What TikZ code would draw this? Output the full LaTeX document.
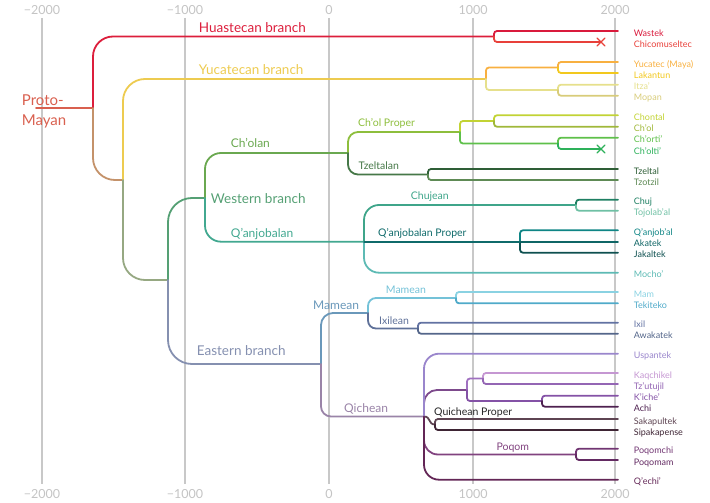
\documentclass[tikz,border=0pt]{standalone}
\usepackage{fontspec}
\setmainfont{Lato}
\usetikzlibrary{positioning,shapes.misc}

\definecolor{gridgray}{HTML}{C8C8C8}
\definecolor{axisgray}{HTML}{C4C4C4}
\definecolor{pmred}{HTML}{D9604F}
\definecolor{huas}{HTML}{DC1E3C}
\definecolor{wastek}{HTML}{D91A3C}
\definecolor{chicom}{HTML}{E8403A}
\definecolor{trunkA}{HTML}{C4926A}
\definecolor{yucbr}{HTML}{EDCB50}
\definecolor{yucatec}{HTML}{F8B040}
\definecolor{lakantun}{HTML}{F2C81E}
\definecolor{itza}{HTML}{E6E08C}
\definecolor{mopan}{HTML}{D8CC7A}
\definecolor{trunkB}{HTML}{96A882}
\definecolor{western}{HTML}{55A074}
\definecolor{cholan}{HTML}{6AA850}
\definecolor{cholp}{HTML}{8DBE3C}
\definecolor{chontal}{HTML}{C2D334}
\definecolor{chol}{HTML}{A0B83A}
\definecolor{chorti}{HTML}{5EC04A}
\definecolor{cholti}{HTML}{2DB15A}
\definecolor{tzeltalan}{HTML}{467848}
\definecolor{tzeltal}{HTML}{2E5E36}
\definecolor{tzotzil}{HTML}{5E8A55}
\definecolor{qanjob}{HTML}{42A890}
\definecolor{chujean}{HTML}{3FA58A}
\definecolor{chuj}{HTML}{1E7F62}
\definecolor{tojol}{HTML}{6FC0A4}
\definecolor{qanjpr}{HTML}{0F6A6A}
\definecolor{qanjobal}{HTML}{0F8585}
\definecolor{akatek}{HTML}{0F6565}
\definecolor{jakaltek}{HTML}{0E5050}
\definecolor{mocho}{HTML}{5DBAB4}
\definecolor{eastern}{HTML}{8590B0}
\definecolor{mameanO}{HTML}{6A98BA}
\definecolor{mameanI}{HTML}{74C2D8}
\definecolor{mam}{HTML}{8AD2E2}
\definecolor{tekiteko}{HTML}{4FAAC9}
\definecolor{ixilean}{HTML}{5F7199}
\definecolor{ixil}{HTML}{6272A2}
\definecolor{awakatek}{HTML}{54668A}
\definecolor{qichean}{HTML}{9A84A8}
\definecolor{uspantek}{HTML}{9A86CC}
\definecolor{kichean}{HTML}{7D4A8C}
\definecolor{kaqline}{HTML}{A070C0}
\definecolor{kaqchikel}{HTML}{C597D2}
\definecolor{tzutujil}{HTML}{9466B4}
\definecolor{kiche}{HTML}{8452A6}
\definecolor{achi}{HTML}{4E2150}
\definecolor{sakap}{HTML}{5E4452}
\definecolor{sipak}{HTML}{3E2434}
\definecolor{poqom}{HTML}{81437F}
\definecolor{poqomchi}{HTML}{713572}
\definecolor{poqomam}{HTML}{632A62}
\definecolor{qechi}{HTML}{632656}

\begin{document}
\begin{tikzpicture}[x=1pt, y=-1pt, line width=1.8pt, line cap=round,
  grid/.style={draw=gridgray, line width=2pt, line cap=butt},
  yrlab/.style={text=axisgray, anchor=base, inner sep=0pt, font=\fontsize{12.5}{14}\selectfont},
  leaf/.style={inner sep=0pt, text height=6.5pt, text depth=0pt, yshift=-2pt, font=\fontsize{9}{10}\selectfont},
  lvlA/.style={anchor=base west, inner sep=0pt, font=\fontsize{13.5}{15}\selectfont},
  lvlB/.style={anchor=base west, inner sep=0pt, font=\fontsize{12}{14}\selectfont},
  lvlC/.style={anchor=base west, inner sep=0pt, font=\fontsize{10.5}{12}\selectfont},
  sq/.style={rounded corners=3pt},
  dead/.style={cross out, draw, line width=1.4pt, minimum size=6.5pt, inner sep=0pt}]
\useasboundingbox (0,0) rectangle (710,503);

% time axis
\draw[grid] (42,18) -- (42,484);
\draw[grid] (185,18) -- (185,484);
\draw[grid] (329,18) -- (329,484);
\draw[grid] (473,18) -- (473,484);
\draw[grid] (615,18) -- (615,484);
\node[yrlab] (t1) at (42,15) {−2000};
\node[yrlab] (t2) at (185,15) {−1000};
\node[yrlab] (t3) at (329,15) {0};
\node[yrlab] (t4) at (473,15) {1000};
\node[yrlab] (t5) at (615,15) {2000};
\node[yrlab] (b1) at (42,498) {−2000};
\node[yrlab] (b2) at (185,498) {−1000};
\node[yrlab] (b3) at (329,498) {0};
\node[yrlab] (b4) at (473,498) {1000};
\node[yrlab] (b5) at (615,498) {2000};

% split points
\coordinate (pmS) at (36,108);
\coordinate (pm) at (93,108);
\coordinate (yw) at (123,180);
\coordinate (we) at (168,280);
\coordinate (west) at (205,198);
\coordinate (east) at (321,364);
\coordinate (huas) at (494,36.5);
\coordinate (yuca) at (486,79);
\coordinate (yuc1) at (558,67.5);
\coordinate (yuc2) at (558,90);
\coordinate (cholan) at (348,153);
\coordinate (cholp) at (460,132);
\coordinate (chol1) at (494,121);
\coordinate (chol2) at (558,143.5);
\coordinate (tzelt) at (428,174.5);
\coordinate (qanjN) at (364,241.7);
\coordinate (chuje) at (576,205);
\coordinate (qanjpN) at (520,241.7);
\coordinate (mame) at (368,313);
\coordinate (mamI) at (456,298);
\coordinate (ixilN) at (418,328.5);
\coordinate (qich) at (424,416.5);
\coordinate (kich) at (467,390);
\coordinate (kaqN) at (483,378.5);
\coordinate (kiacN) at (542,401);
\coordinate (sakaN) at (435,424.5);
\coordinate (poqoN) at (576,454.5);

% leaf ends
\coordinate (wastekE) at (618,31);
\node[dead, draw=chicom] (chicomX) at (601,42) {};
\coordinate (yucatecE) at (618,62);
\coordinate (lakantunE) at (618,73);
\coordinate (itzaE) at (618,84.7);
\coordinate (mopanE) at (618,95.7);
\coordinate (chontalE) at (618,115.3);
\coordinate (cholE) at (618,126.7);
\coordinate (chortiE) at (618,137.7);
\node[dead, draw=cholti] (choltiX) at (601,149) {};
\coordinate (tzeltalE) at (618,169);
\coordinate (tzotzilE) at (618,180);
\coordinate (chujE) at (618,199.7);
\coordinate (tojolE) at (618,210.7);
\coordinate (qanjobalE) at (618,230.3);
\coordinate (akatekE) at (618,241.7);
\coordinate (jakaltekE) at (618,252.7);
\coordinate (mochoE) at (618,272.7);
\coordinate (mamE) at (618,292);
\coordinate (tekitekoE) at (618,303.3);
\coordinate (ixilE) at (618,322.7);
\coordinate (awakatekE) at (618,333.7);
\coordinate (uspantekE) at (618,353.7);
\coordinate (kaqchikelE) at (618,373);
\coordinate (tzutujilE) at (618,384);
\coordinate (kicheE) at (618,395.7);
\coordinate (achiE) at (618,406.7);
\coordinate (sakapE) at (618,419);
\coordinate (sipakE) at (618,430);
\coordinate (poqomchiE) at (618,448.7);
\coordinate (poqomamE) at (618,460);
\coordinate (qechiE) at (618,479.7);

% main branches
\draw[pmred] (pmS) -- (pm);
\draw[huas, rounded corners=20pt] (pm) |- (huas);
\draw[trunkA, rounded corners=22pt] (pm) |- (yw);
\draw[yucbr, rounded corners=22pt] (yw) |- (yuca);
\draw[trunkB, rounded corners=22pt] (yw) |- (we);
\draw[western, rounded corners=24pt] (we) |- (west);
\draw[eastern, rounded corners=24pt] (we) |- (east);
\draw[cholan, rounded corners=16pt] (west) |- (cholan);
\draw[qanjob, rounded corners=16pt] (west) |- (qanjN);
\draw[cholp, rounded corners=10pt] (cholan) |- (cholp);
\draw[tzeltalan, rounded corners=10pt] (cholan) |- (tzelt);
\draw[chujean, rounded corners=15pt] (qanjN) |- (chuje);
\draw[mameanO, rounded corners=12pt] (east) |- (mame);
\draw[qichean, rounded corners=10pt] (east) |- (qich);
\draw[mameanI, rounded corners=8pt] (mame) |- (mamI);
\draw[ixilean, rounded corners=8pt] (mame) |- (ixilN);
\draw[kichean, rounded corners=13pt] (qich) |- (kich);
\draw[sakap] (qich) .. controls (431,416.5) and (428,424.5) .. (sakaN);
\draw[poqom, rounded corners=14pt] (qich) |- (poqoN);
\draw[yucatec, sq] (yuca) |- (yuc1);
\draw[itza, sq] (yuca) |- (yuc2);
\draw[chontal, sq] (cholp) |- (chol1);
\draw[chorti, sq] (cholp) |- (chol2);
\draw[kaqline, sq] (kich) |- (kaqN);
\draw[kiche, sq] (kich) |- (kiacN);

% languages
\draw[wastek, sq] (huas) |- (wastekE);
\draw[chicom, sq] (huas) |- (chicomX.center);
\draw[yucatec, sq] (yuc1) |- (yucatecE);
\draw[lakantun, sq] (yuc1) |- (lakantunE);
\draw[itza, sq] (yuc2) |- (itzaE);
\draw[mopan, sq] (yuc2) |- (mopanE);
\draw[chontal, sq] (chol1) |- (chontalE);
\draw[chol, sq] (chol1) |- (cholE);
\draw[chorti, sq] (chol2) |- (chortiE);
\draw[cholti, sq] (chol2) |- (choltiX.center);
\draw[tzeltal, sq] (tzelt) |- (tzeltalE);
\draw[tzotzil, sq] (tzelt) |- (tzotzilE);
\draw[chuj, sq] (chuje) |- (chujE);
\draw[tojol, sq] (chuje) |- (tojolE);
\draw[qanjobal, sq] (qanjpN) |- (qanjobalE);
\draw[akatek] (qanjpN) -- (akatekE);
\draw[jakaltek, sq] (qanjpN) |- (jakaltekE);
\draw[mocho, rounded corners=15pt] (qanjN) |- (mochoE);
\draw[mam, sq] (mamI) |- (mamE);
\draw[tekiteko, sq] (mamI) |- (tekitekoE);
\draw[ixil, sq] (ixilN) |- (ixilE);
\draw[awakatek, sq] (ixilN) |- (awakatekE);
\draw[uspantek, rounded corners=15pt] (qich) |- (uspantekE);
\draw[kaqchikel, sq] (kaqN) |- (kaqchikelE);
\draw[tzutujil, sq] (kaqN) |- (tzutujilE);
\draw[kiche, sq] (kiacN) |- (kicheE);
\draw[achi, sq] (kiacN) |- (achiE);
\draw[sakap, sq] (sakaN) |- (sakapE);
\draw[sipak, sq] (sakaN) |- (sipakE);
\draw[poqomchi, sq] (poqoN) |- (poqomchiE);
\draw[poqomam, sq] (poqoN) |- (poqomamE);
\draw[qechi, rounded corners=15pt] (qich) |- (qechiE);
\draw[qanjpr, line width=1.8pt] (qanjpN) -- (qanjN);

\node[leaf, text=wastek, right=15pt of wastekE] (wastekL) {Wastek};
\node[leaf, text=chicom, right=32pt of chicomX.center] (chicomL) {Chicomuseltec};
\node[leaf, text=yucatec, right=15pt of yucatecE] (yucatecL) {Yucatec (Maya)};
\node[leaf, text=lakantun, right=15pt of lakantunE] (lakantunL) {Lakantun};
\node[leaf, text=itza, right=15pt of itzaE] (itzaL) {Itza'};
\node[leaf, text=mopan, right=15pt of mopanE] (mopanL) {Mopan};
\node[leaf, text=chontal, right=15pt of chontalE] (chontalL) {Chontal};
\node[leaf, text=chol, right=15pt of cholE] (cholL) {Ch'ol};
\node[leaf, text=chorti, right=15pt of chortiE] (chortiL) {Ch'orti'};
\node[leaf, text=cholti, right=32pt of choltiX.center] (choltiL) {Ch'olti'};
\node[leaf, text=tzeltal, right=15pt of tzeltalE] (tzeltalL) {Tzeltal};
\node[leaf, text=tzotzil, right=15pt of tzotzilE] (tzotzilL) {Tzotzil};
\node[leaf, text=chuj, right=15pt of chujE] (chujL) {Chuj};
\node[leaf, text=tojol, right=15pt of tojolE] (tojolL) {Tojolab'al};
\node[leaf, text=qanjobal, right=15pt of qanjobalE] (qanjobalL) {Q'anjob'al};
\node[leaf, text=akatek, right=15pt of akatekE] (akatekL) {Akatek};
\node[leaf, text=jakaltek, right=15pt of jakaltekE] (jakaltekL) {Jakaltek};
\node[leaf, text=mocho, right=15pt of mochoE] (mochoL) {Mocho'};
\node[leaf, text=mam, right=15pt of mamE] (mamL) {Mam};
\node[leaf, text=tekiteko, right=15pt of tekitekoE] (tekitekoL) {Tekiteko};
\node[leaf, text=ixil, right=15pt of ixilE] (ixilL) {Ixil};
\node[leaf, text=awakatek, right=15pt of awakatekE] (awakatekL) {Awakatek};
\node[leaf, text=uspantek, right=15pt of uspantekE] (uspantekL) {Uspantek};
\node[leaf, text=kaqchikel, right=15pt of kaqchikelE] (kaqchikelL) {Kaqchikel};
\node[leaf, text=tzutujil, right=15pt of tzutujilE] (tzutujilL) {Tz'utujil};
\node[leaf, text=kiche, right=15pt of kicheE] (kicheL) {K'iche'};
\node[leaf, text=achi, right=15pt of achiE] (achiL) {Achi};
\node[leaf, text=sakap, right=15pt of sakapE] (sakapL) {Sakapultek};
\node[leaf, text=sipak, right=15pt of sipakE] (sipakL) {Sipakapense};
\node[leaf, text=poqomchi, right=15pt of poqomchiE] (poqomchiL) {Poqomchi};
\node[leaf, text=poqomam, right=15pt of poqomamE] (poqomamL) {Poqomam};
\node[leaf, text=qechi, right=15pt of qechiE] (qechiL) {Q'echi'};

% group names
\node[anchor=base west, inner sep=0pt, text=pmred, align=left, font=\fontsize{15}{20}\selectfont] (pmL) at (21,125) {Proto-\\Mayan};
\node[lvlA, text=huas] (huasL) at (198,32.7) {Huastecan branch};
\node[lvlA, text=yucbr] (yucaL) at (198,75) {Yucatecan branch};
\node[lvlA, text=western] (westL) at (210,203.3) {Western branch};
\node[lvlA, text=eastern] (eastL) at (196,355) {Eastern branch};
\node[lvlB, text=cholan] (cholanL) at (230,147.7) {Ch'olan};
\node[lvlB, text=qanjob] (qanjL) at (230,237) {Q'anjobalan};
\node[lvlB, text=mameanO] (mameL) at (312.3,309) {Mamean};
\node[lvlB, text=qichean] (qichL) at (343.3,412) {Qichean};
\node[lvlC, text=cholp] (cholpL) at (357.3,126.7) {Ch'ol Proper};
\node[lvlC, text=tzeltalan] (tzeltL) at (357.7,169) {Tzeltalan};
\node[lvlC, text=chujean] (chujeL) at (410,199.3) {Chujean};
\node[lvlC, text=qanjpr] (qanjpL) at (377.3,236.7) {Q'anjobalan Proper};
\node[lvlC, text=mameanI] (mamIL) at (385,293.3) {Mamean};
\node[lvlC, text=ixilean] (ixilNL) at (378.3,324.5) {Ixilean};
\node[lvlC, text=black!85] (qpL) at (433.3,415) {Quichean Proper};
\node[lvlC, text=poqom] (poqoL) at (495.7,450.7) {Poqom};
\end{tikzpicture}
\end{document}
